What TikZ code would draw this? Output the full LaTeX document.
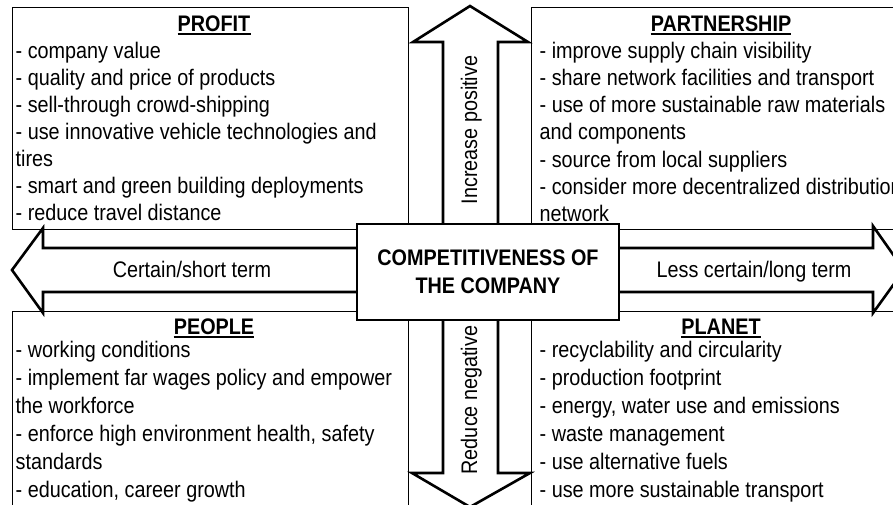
\documentclass[tikz,border=0pt]{standalone}
\usepackage{fontspec}
\setmainfont{Liberation Sans}[FakeStretch=0.88]
\tikzset{
  arrowshape/.style={draw, fill=white, line width=2.6pt, miter limit=10},
  panel/.style={draw, line width=0.9pt},
  body/.style={anchor=base west, inner sep=0pt, font=\fontsize{22.5}{27}\selectfont},
  ttl/.style={anchor=base, inner sep=0pt, font=\bfseries\fontsize{22.5}{27}\selectfont},
  lab/.style={inner sep=0pt, font=\fontsize{22.5}{27}\selectfont},
  core/.style={draw, fill=white, line width=2.6pt, align=center, inner sep=0pt,
    minimum width=262pt, minimum height=96pt, font=\bfseries\fontsize{22.5}{28}\selectfont},
  uline/.style={line width=1.5pt}
}
\begin{document}
\begin{tikzpicture}[x=1pt,y=-1pt]
\useasboundingbox (0,0) rectangle (893,504);
% arrows
\draw[arrowshape] (443,240) -- (443,42) -- (413,42) -- (470,6) -- (528,42) -- (498,42) -- (498,240) -- cycle;
\draw[arrowshape] (443,300) -- (443,473) -- (412,473) -- (470,507) -- (530,473) -- (498,473) -- (498,300) -- cycle;
\draw[arrowshape] (370,248) -- (43,248) -- (43,228) -- (12,270) -- (43,313) -- (43,292) -- (370,292) -- cycle;
\draw[arrowshape] (600,248) -- (873,248) -- (873,226) -- (904,270) -- (873,313) -- (873,292) -- (600,292) -- cycle;
% panels
\draw[panel] (12,7) rectangle (408,229);
\draw[panel] (531,7) rectangle (912,229);
\draw[panel] (12,311) rectangle (408,520);
\draw[panel] (531,311) rectangle (912,520);
% titles
\node[ttl] (tprofit) at (214,31) {PROFIT};
\node[ttl] (tpartner) at (721,31) {PARTNERSHIP};
\node[ttl] (tpeople) at (214,334) {PEOPLE};
\node[ttl] (tplanet) at (721,334) {PLANET};
\foreach \n in {tprofit,tpartner,tpeople,tplanet}
  \draw[uline] ([yshift=-3pt]\n.base west) -- ([yshift=-3pt]\n.base east);
% body texts
\foreach \t [count=\i from 0] in {{- company value},{- quality and price of products},{- sell-through crowd-shipping},{- use innovative vehicle technologies and},{tires},{- smart and green building deployments},{- reduce travel distance}}
  \node[body] (pf\i) at (15.5,58+27*\i) {\t};
\foreach \t [count=\i from 0] in {{- improve supply chain visibility},{- share network facilities and transport},{- use of more sustainable raw materials},{and components},{- source from local suppliers},{- consider more decentralized distribution},{network}}
  \node[body] (pa\i) at (539.5,58+27.3*\i) {\t};
\foreach \t [count=\i from 0] in {{- working conditions},{- implement far wages policy and empower},{the workforce},{- enforce high environment health, safety},{standards},{- education, career growth}}
  \node[body] (pe\i) at (15.5,357+28*\i) {\t};
\foreach \t [count=\i from 0] in {{- recyclability and circularity},{- production footprint},{- energy, water use and emissions},{- waste management},{- use alternative fuels},{- use more sustainable transport}}
  \node[body] (pl\i) at (539.5,357+28*\i) {\t};
% arrow labels
\node[lab, anchor=base] (short) at (192,277) {Certain/short term};
\node[lab, anchor=base] (long) at (754,277) {Less certain/long term};
\node[lab, rotate=90, anchor=base] (incr) at (477,130) {Increase positive};
\node[lab, rotate=90, anchor=base] (redu) at (477,400) {Reduce negative};
% centre
\node[core] (core) at (488,272) {COMPETITIVENESS OF\\THE COMPANY};
\end{tikzpicture}
\end{document}
